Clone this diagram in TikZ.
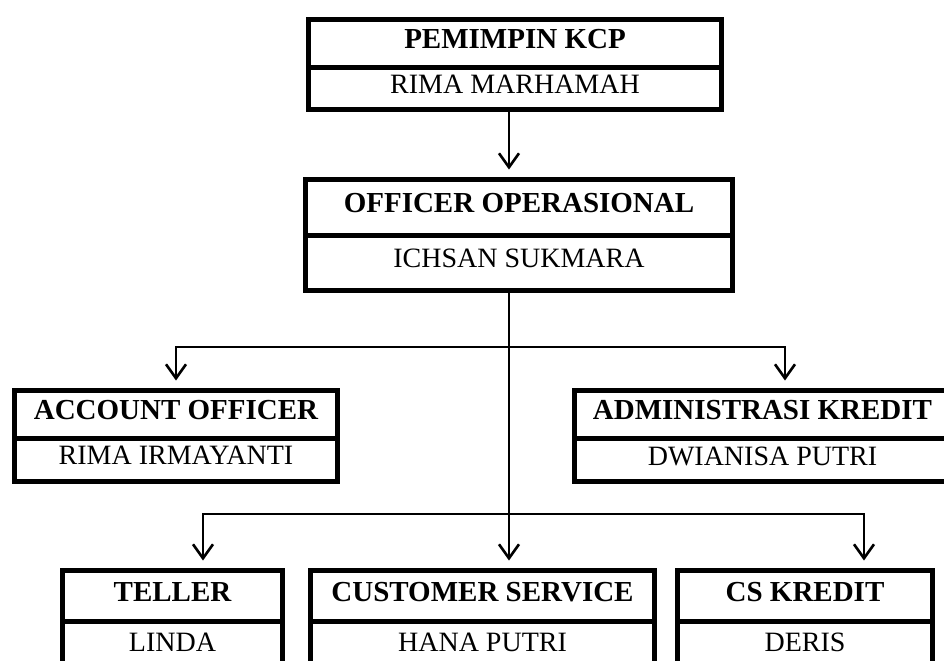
\documentclass[tikz,border=0pt]{standalone}
\usepackage{fontspec}
\setmainfont{Liberation Serif}
\usetikzlibrary{positioning,arrows.meta}

\begin{document}
\begin{tikzpicture}[x=0.5pt,y=-0.5pt,
    box/.style={draw,line width=2.5pt,outer sep=0pt,inner sep=0pt,align=center,text depth=4pt},
    headbox/.style={box,font=\fontsize{14.5pt}{17pt}\selectfont\bfseries},
    namebox/.style={box,font=\fontsize{14pt}{17pt}\selectfont},
    link/.style={line width=1.3pt},
    arr/.style={link,-{Straight Barb[length=7pt,width=10pt]},shorten >=5pt}]
  \useasboundingbox (0,0) rectangle (944,660);

  \node[headbox,minimum width=206.5pt,minimum height=23.75pt] (1) at (515,43.25) {PEMIMPIN KCP};
  \node[namebox,minimum width=206.5pt,minimum height=21.25pt,below=0pt of 1] (1n) {RIMA MARHAMAH};

  \node[headbox,minimum width=213.5pt,minimum height=27.75pt] (2) at (519,207.25) {OFFICER OPERASIONAL};
  \node[namebox,minimum width=213.5pt,minimum height=27.5pt,below=0pt of 2] (2n) {ICHSAN SUKMARA};

  \node[headbox,minimum width=161.5pt,minimum height=23.75pt] (3) at (176,414.25) {ACCOUNT OFFICER};
  \node[namebox,minimum width=161.5pt,minimum height=21.75pt,below=0pt of 3] (3n) {RIMA IRMAYANTI};

  \node[headbox,minimum width=188pt,minimum height=23.75pt] (4) at (762.5,414.25) {ADMINISTRASI KREDIT};
  \node[namebox,minimum width=188pt,minimum height=21.75pt,below=0pt of 4] (4n) {DWIANISA PUTRI};

  \node[headbox,minimum width=110pt,minimum height=25.25pt] (5) at (172.5,595.75) {TELLER};
  \node[namebox,minimum width=110pt,minimum height=25pt,below=0pt of 5] (5n) {LINDA};

  \node[headbox,minimum width=172pt,minimum height=25.25pt] (6) at (482.5,595.75) {CUSTOMER SERVICE};
  \node[namebox,minimum width=172pt,minimum height=25pt,below=0pt of 6] (6n) {HANA PUTRI};

  \node[headbox,minimum width=127.5pt,minimum height=25.25pt] (7) at (805,595.75) {CS KREDIT};
  \node[namebox,minimum width=127.5pt,minimum height=25pt,below=0pt of 7] (7n) {DERIS};

  \coordinate (t) at (509,300);
  \coordinate (l1) at (176,347);
  \coordinate (r1) at (785,347);
  \coordinate (l2) at (203,514);
  \coordinate (r2) at (864,514);

  \draw[arr] (1n.south -| t) -- (2.north -| t);
  \draw[arr] (2n.south -| t) -- (6.north -| t);
  \draw[arr] (l1) -- (r1) -- (r1 |- 4.north);
  \draw[arr] (r1) -- (l1) -- (l1 |- 3.north);
  \draw[arr] (l2) -- (r2) -- (r2 |- 7.north);
  \draw[arr] (r2) -- (l2) -- (l2 |- 5.north);
\end{tikzpicture}
\end{document}
